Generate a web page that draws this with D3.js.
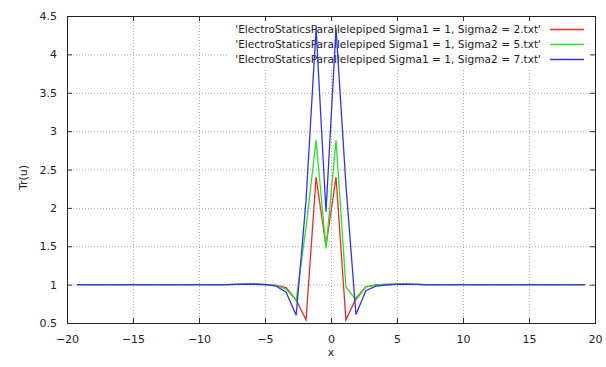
<!DOCTYPE html>
<html>
<head>
<meta charset="utf-8">
<script src="https://cdn.jsdelivr.net/npm/d3@7"></script>
<style>
  body { margin: 0; background: #fff; }
  text { font-family: "DejaVu Sans", sans-serif; fill: #222; }
</style>
</head>
<body>
<script>
// sample positions along x (as plotted)
var xValues = [-19.25, -18.50, -17.74, -16.99, -16.23, -15.48, -14.72, -13.97, -13.21, -12.46,
               -11.70, -10.95, -10.19, -9.44, -8.68, -7.93, -7.17, -6.42, -5.66, -4.91,
               -4.15, -3.40, -2.64, -1.89, -1.13, -0.38, 0.38, 1.13, 1.89, 2.64,
               3.40, 4.15, 4.91, 5.66, 6.42, 7.17, 7.93, 8.68, 9.44, 10.19,
               10.95, 11.70, 12.46, 13.21, 13.97, 14.72, 15.48, 16.23, 16.99, 17.74,
               18.50, 19.25];

var sigma2a = [1, 1, 1, 1, 1, 1, 1, 1, 1, 1,
               1, 1, 1, 1, 1, 1, 1.003, 1.005, 1.005, 1.0,
               0.99, 0.96, 0.80, 0.54, 2.40, 1.50, 2.40, 0.54, 0.82, 0.97,
               0.995, 1.003, 1.005, 1.005, 1.003, 1, 1, 1, 1, 1,
               1, 1, 1, 1, 1, 1, 1, 1, 1, 1,
               1, 1];
var sigma2b = [1, 1, 1, 1, 1, 1, 1, 1, 1, 1,
               1, 1, 1, 1, 1, 1, 1.003, 1.006, 1.006, 1.0,
               0.99, 0.94, 0.80, 1.75, 2.88, 1.47, 2.88, 0.97, 0.80, 0.97,
               0.995, 1.004, 1.006, 1.006, 1.003, 1, 1, 1, 1, 1,
               1, 1, 1, 1, 1, 1, 1, 1, 1, 1,
               1, 1];
var sigma2c = [1, 1, 1, 1, 1, 1, 1, 1, 1, 1,
               1, 1, 1, 1, 1, 1, 1.002, 1.005, 1.005, 1.0,
               0.98, 0.90, 0.60, 2.10, 4.34, 1.95, 4.34, 2.30, 0.61, 0.92,
               0.98, 0.995, 1.004, 1.005, 1.003, 1, 1, 1, 1, 1,
               1, 1, 1, 1, 1, 1, 1, 1, 1, 1,
               1, 1];

var seriesNames = ["'ElectroStaticsParallelepiped Sigma1 = 1, Sigma2 = 2.txt'",
                   "'ElectroStaticsParallelepiped Sigma1 = 1, Sigma2 = 5.txt'",
                   "'ElectroStaticsParallelepiped Sigma1 = 1, Sigma2 = 7.txt'"];
var seriesColors = ["#f02828", "#2ee02e", "#3333e8"];
var xTicks = [-20, -15, -10, -5, 0, 5, 10, 15, 20];
var yTicks = [0.5, 1, 1.5, 2, 2.5, 3, 3.5, 4, 4.5];

var width = 606, height = 367;
var margin = {top: 16, right: 11, bottom: 44, left: 67};
var plotW = width - margin.left - margin.right,
    plotH = height - margin.top - margin.bottom;

var svg = d3.select("body").append("svg")
    .attr("width", width)
    .attr("height", height);

var x = d3.scaleLinear().domain([-20, 20]).range([0, plotW]);
var y = d3.scaleLinear().domain([0.5, 4.5]).range([plotH, 0]);

var g = svg.append("g").attr("transform", "translate(" + margin.left + "," + margin.top + ")");

// grid
g.append("g").selectAll("line").data(xTicks.slice(1, -1)).enter().append("line")
    .attr("x1", function(d) { return x(d) + 0.5; }).attr("x2", function(d) { return x(d) + 0.5; })
    .attr("y1", 0).attr("y2", plotH)
    .attr("stroke", "#aaa").attr("stroke-width", 1).attr("stroke-dasharray", "1,2");
g.append("g").selectAll("line").data(yTicks.slice(1, -1)).enter().append("line")
    .attr("y1", function(d) { return y(d) + 0.5; }).attr("y2", function(d) { return y(d) + 0.5; })
    .attr("x1", 0).attr("x2", plotW)
    .attr("stroke", "#aaa").attr("stroke-width", 1).attr("stroke-dasharray", "1,2");

// legend background (hides grid under it)
var legRight = 474, legTop = 4, rowH = 15;
g.append("rect").attr("x", 162).attr("y", legTop).attr("width", 362).attr("height", 48).attr("fill", "#fff");

var legend = g.append("g");
seriesNames.forEach(function(name, i) {
  var cy = legTop + 9 + i * rowH;
  legend.append("text").attr("x", legRight).attr("y", cy + 4)
      .attr("text-anchor", "end").style("font-size", "10.6px").text(name);
  legend.append("line").attr("x1", legRight + 9).attr("x2", legRight + 43)
      .attr("y1", cy + 0.5).attr("y2", cy + 0.5)
      .attr("stroke", seriesColors[i]).attr("stroke-width", 1.3);
});

// axes: ticks inward on all four sides
var axB = d3.axisBottom(x).tickValues(xTicks).tickSizeInner(-5).tickSizeOuter(0).tickPadding(12);
var axT = d3.axisTop(x).tickValues(xTicks).tickSizeInner(-5).tickSizeOuter(0).tickFormat("");
var axL = d3.axisLeft(y).tickValues(yTicks).tickSizeInner(-5).tickSizeOuter(0).tickPadding(10).tickFormat(d3.format(""));
var axR = d3.axisRight(y).tickValues(yTicks).tickSizeInner(-5).tickSizeOuter(0).tickFormat("");

function styleAxis(sel) {
  sel.select(".domain").remove();
  sel.selectAll("line").attr("stroke", "#333");
  sel.selectAll("text").style("font-size", "11px").attr("fill", "#222").style("font-family", "DejaVu Sans, sans-serif");
}
g.append("g").attr("transform", "translate(0," + plotH + ")").call(axB).call(styleAxis);
g.append("g").call(axT).call(styleAxis);
g.append("g").call(axL).call(styleAxis);
g.append("g").attr("transform", "translate(" + plotW + ",0)").call(axR).call(styleAxis);

// data lines
var line = d3.line()
    .x(function(d, i) { return x(xValues[i]); })
    .y(function(d) { return y(d); });

[sigma2a, sigma2b, sigma2c].forEach(function(s, i) {
  g.append("path").datum(s)
      .attr("d", line)
      .attr("fill", "none")
      .attr("stroke", seriesColors[i])
      .attr("stroke-width", 1.3)
      .attr("stroke-linejoin", "miter");
});

// border
g.append("rect").attr("x", 0.5).attr("y", 0.5).attr("width", plotW).attr("height", plotH)
    .attr("fill", "none").attr("stroke", "#222").attr("stroke-width", 1);

// axis titles
svg.append("text").attr("x", margin.left + x(0)).attr("y", 356)
    .attr("text-anchor", "middle").style("font-size", "11px").text("x");
svg.append("text").attr("transform", "translate(27," + (margin.top + plotH / 2 + 8) + ") rotate(-90)")
    .attr("text-anchor", "middle").style("font-size", "11px").text("Tr(u)");
</script>
</body>
</html>
